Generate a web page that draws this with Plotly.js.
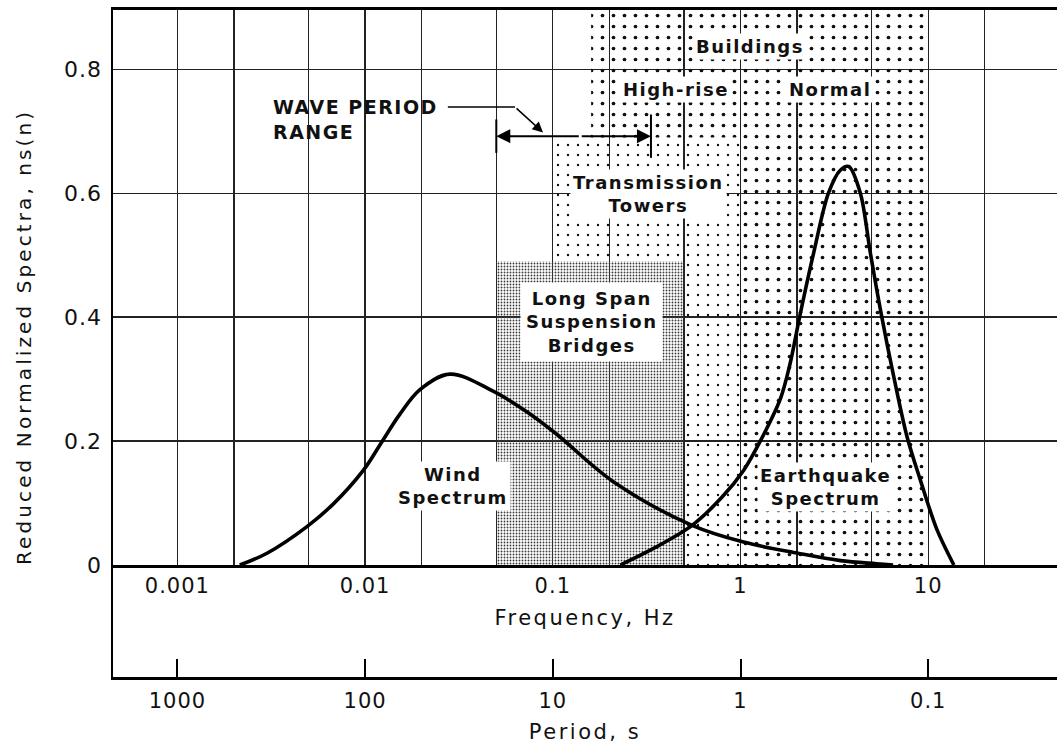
<!DOCTYPE html>
<html><head><meta charset="utf-8">
<script src="https://cdn.plot.ly/plotly-3.0.1.min.js"></script>
<style>
html,body{margin:0;padding:0;background:#fff;}
#chart{width:1057px;height:747px;}
.xtitle,.x2title{letter-spacing:2.5px;}
.xtick text,.ytick text,.x2tick text{letter-spacing:1px;}
.annotation-text{letter-spacing:1.5px;}
</style>
</head><body><div id="chart"></div>
<script>
// ---------- data ----------
const gridFreqs = [0.001,0.002,0.005,0.01,0.02,0.05,0.1,0.2,0.5,1,2,5,10,20];
const freqTickLabels = ['0.001','','','0.01','','','0.1','','','1','','','10',''];
const periodTickFreqs = [0.001,0.01,0.1,1,10];
const periodTickLabels = ['1000','100','10','1','0.1'];
const spectraTicks = [0,0.2,0.4,0.6,0.8];

const windFreq  = [0.00215,0.003,0.0049,0.0068,0.0098,0.0123,0.0153,0.0196,0.0283,0.0478,0.073,0.103,0.211,0.552,1.04,2.02,3.41,5.3,6.5];
const windValue = [0,0.019,0.062,0.099,0.153,0.199,0.243,0.283,0.308,0.281,0.247,0.213,0.134,0.064,0.037,0.019,0.007,0.002,0];

const quakeFreq  = [0.229,0.35,0.552,0.8,1.04,1.27,1.63,1.84,2.08,2.45,2.94,3.4,3.77,4.35,4.92,5.61,6.55,7.71,9.08,11.1,13.7];
const quakeValue = [0,0.028,0.064,0.11,0.153,0.199,0.268,0.326,0.405,0.503,0.600,0.637,0.643,0.600,0.503,0.406,0.304,0.207,0.137,0.058,0];

const regionNames    = ['Long Span Suspension Bridges','Transmission Towers','Buildings'];
const regionFreqLow  = [0.05, 0.1, 0.16];
const regionFreqHigh = [0.5, 1, 10];
const regionTop      = [0.49, 0.69, 0.9];

const wavePeriodRange = [20, 3]; // seconds

// ---------- helpers ----------
const PL = 113, PW = 944, PB = 677, PH = 667;
const px = v => (v - PL) / PW;
const py = v => (PB - v) / PH;
const lg = Math.log10;

// region polygons (each region minus the one drawn in front of it)
const b = 0, t = 1, d = 2;
const polys = [
  { x:[regionFreqLow[b],regionFreqHigh[b],regionFreqHigh[b],regionFreqLow[b],regionFreqLow[b]],
    y:[0,0,regionTop[b],regionTop[b],0] },
  { x:[regionFreqHigh[b],regionFreqHigh[t],regionFreqHigh[t],regionFreqLow[t],regionFreqLow[t],regionFreqHigh[b],regionFreqHigh[b]],
    y:[0,0,regionTop[t],regionTop[t],regionTop[b],regionTop[b],0] },
  { x:[regionFreqHigh[t],regionFreqHigh[d],regionFreqHigh[d],regionFreqLow[d],regionFreqLow[d],regionFreqHigh[t],regionFreqHigh[t]],
    y:[0,0,regionTop[d],regionTop[d],regionTop[t],regionTop[t],0] }
];
const patterns = [
  {shape:'.', size:3, solidity:0.3, fgcolor:'#3a3a3a', bgcolor:'rgba(0,0,0,0)'},
  {shape:'.', size:10, solidity:0.045, fgcolor:'#111', bgcolor:'rgba(0,0,0,0)'},
  {shape:'.', size:11, solidity:0.09, fgcolor:'#111', bgcolor:'rgba(0,0,0,0)'}
];

const traces = polys.map((p,i) => ({
  type:'scatter', mode:'none', x:p.x, y:p.y, fill:'toself',
  fillcolor:patterns[i].fgcolor, fillpattern:patterns[i],
  name:regionNames[i], xaxis:'x', yaxis:'y', hoverinfo:'skip'
}));

traces.push({type:'scatter', mode:'lines', x:windFreq, y:windValue,
  line:{color:'#000', width:3.6, shape:'spline', smoothing:1}, xaxis:'x', yaxis:'y'});
traces.push({type:'scatter', mode:'lines', x:quakeFreq, y:quakeValue,
  line:{color:'#000', width:3.6, shape:'spline', smoothing:0.9}, xaxis:'x', yaxis:'y'});

const waveF = wavePeriodRange.map(s => 1/s);
const arrowLevel = regionTop[t] + 0.002;
// end bars of wave period range
traces.push({type:'scatter', mode:'lines',
  x:[waveF[0],waveF[0],null,waveF[1],waveF[1]],
  y:[arrowLevel-0.027,arrowLevel+0.027,null,arrowLevel-0.035,arrowLevel+0.035],
  line:{color:'#000', width:2}, xaxis:'x', yaxis:'y'});
// leader from label
traces.push({type:'scatter', mode:'lines',
  x:[0.0276,0.0629], y:[0.739,0.739],
  line:{color:'#000', width:1.5}, xaxis:'x', yaxis:'y'});
// period axis carrier (no visible marks)
traces.push({type:'scatter', mode:'none', x:periodTickFreqs, y:periodTickFreqs.map(() => 0.5),
  xaxis:'x2', yaxis:'y2', hoverinfo:'skip'});

const FONT = 'DejaVu Sans';
const lab = (text, x, y, extra) => Object.assign({
  xref:'paper', yref:'paper', x:px(x), y:py(y), text:text, showarrow:false,
  font:{family:FONT, size:18, color:'#111', weight:'bold'},
  bgcolor:'#fff', borderpad:2, xanchor:'center', yanchor:'middle', align:'center'
}, extra||{});

const annotations = [
  lab('Buildings', 750, 47),
  lab('High-rise', 676, 89),
  lab('Normal', 830, 89),
  lab('Transmission<br>Towers', 648, 194),
  lab('Long Span<br>Suspension<br>Bridges', 591, 322, {borderpad:5}),
  lab('Wind<br>Spectrum', 453, 486),
  lab('Earthquake<br>Spectrum', 825, 487),
  lab('WAVE PERIOD<br>RANGE', 270, 120, {xanchor:'left', align:'left', bgcolor:'rgba(0,0,0,0)',
      font:{family:FONT, size:19, color:'#111', weight:'bold'}}),
  lab('<span style="letter-spacing:3.1px">Reduced Normalized Spectra, ns(n)</span>', 24, 337,
      {textangle:-90, bgcolor:'rgba(0,0,0,0)', font:{family:FONT, size:20, color:'#111'}}),
  // wave period range arrows
  {xref:'x', yref:'y', axref:'x', ayref:'y', x:lg(waveF[0]), y:arrowLevel,
   ax:lg(0.14), ay:arrowLevel, text:'', showarrow:true, arrowhead:2, arrowsize:1.4, arrowwidth:2, arrowcolor:'#000'},
  {xref:'x', yref:'y', axref:'x', ayref:'y', x:lg(waveF[1]), y:arrowLevel,
   ax:lg(0.14), ay:arrowLevel, text:'', showarrow:true, arrowhead:2, arrowsize:1.4, arrowwidth:2, arrowcolor:'#000'},
  {xref:'x', yref:'y', axref:'x', ayref:'y', x:lg(0.0887), y:0.698,
   ax:lg(0.0629), ay:0.739, text:'', showarrow:true, arrowhead:2, arrowsize:1.4, arrowwidth:1.5, arrowcolor:'#000'}
];

const splitY = py(565); // paper fraction of the y=0 line
const layout = {
  width:1057, height:747,
  margin:{l:PL, r:0, t:10, b:70},
  paper_bgcolor:'#fff', plot_bgcolor:'rgba(0,0,0,0)',
  showlegend:false, hovermode:false,
  font:{family:FONT, color:'#111'},
  xaxis:{type:'log', range:[-3.343,1.686], anchor:'y',
    tickvals:gridFreqs, ticktext:freqTickLabels, ticks:'', ticklabelstandoff:0,
    tickfont:{family:FONT, size:21, color:'#111'},
    showgrid:true, gridcolor:'#222', gridwidth:1.3,
    showline:true, linecolor:'#000', linewidth:3, mirror:true, zeroline:false,
    title:{text:'Frequency, Hz', font:{family:FONT, size:21, color:'#111'}, standoff:14}},
  yaxis:{domain:[splitY,1], range:[0,0.8956], anchor:'x',
    tickvals:spectraTicks, ticks:'', ticklabelstandoff:4,
    tickfont:{family:FONT, size:22, color:'#111'},
    showgrid:true, gridcolor:'#222', gridwidth:1.3, zeroline:false,
    showline:true, linecolor:'#000', linewidth:2.5},
  xaxis2:{type:'log', range:[-3.343,1.686], anchor:'y2',
    tickvals:periodTickFreqs, ticktext:periodTickLabels,
    ticks:'inside', ticklen:18, tickwidth:2, tickcolor:'#000', ticklabelstandoff:3,
    tickfont:{family:FONT, size:21, color:'#111'},
    showgrid:false, showline:true, linecolor:'#000', linewidth:3, zeroline:false,
    title:{text:'Period, s', font:{family:FONT, size:21, color:'#111'}, standoff:13}},
  yaxis2:{domain:[0,splitY], range:[0,1], anchor:'x2', showticklabels:false, ticks:'',
    showgrid:false, zeroline:false, showline:true, linecolor:'#000', linewidth:2.5},
  annotations:annotations
};

Plotly.newPlot('chart', traces, layout, {staticPlot:true, displayModeBar:false});
</script>
</body></html>
